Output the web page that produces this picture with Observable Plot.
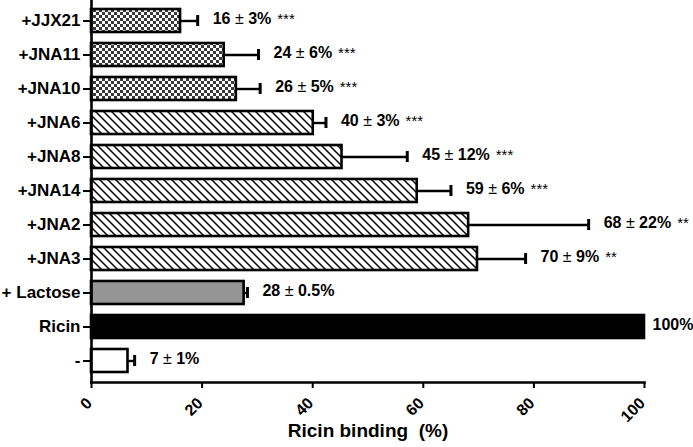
<!DOCTYPE html>
<html>
<head>
<meta charset="utf-8">
<script src="https://cdn.jsdelivr.net/npm/d3@7"></script>
<script src="https://cdn.jsdelivr.net/npm/@observablehq/plot@0.6"></script>
<style>
  html, body { margin: 0; padding: 0; background: #fff; }
</style>
</head>
<body>
<div id="chart"></div>
<script>
// ---- data ----
const categories = ["+JJX21", "+JNA11", "+JNA10", "+JNA6", "+JNA8", "+JNA14", "+JNA2", "+JNA3", "+ Lactose", "Ricin", "-"];
const values = [16.1, 24.0, 26.2, 40.1, 45.3, 58.9, 68.2, 69.8, 27.6, 100, 6.6];
const errors = [3.1, 6.2, 4.3, 2.3, 11.8, 6.1, 21.7, 8.7, 0.6, 0, 1.2];
const labels = ["16 ± 3%", "24 ± 6%", "26 ± 5%", "40 ± 3%", "45 ± 12%", "59 ± 6%", "68 ± 22%", "70 ± 9%", "28 ± 0.5%", "100%", "7 ± 1%"];
const stars = ["***", "***", "***", "***", "***", "***", "**", "**", "", "", ""];
const groups = ["JJX/JNA-a", "JJX/JNA-a", "JJX/JNA-a", "JNA-b", "JNA-b", "JNA-b", "JNA-b", "JNA-b", "lactose", "ricin", "none"];
const xTicks = [0, 20, 40, 60, 80, 100];
const xTitle = "Ricin binding  (%)";

// ---- build ----
const fillByGroup = {
  "JJX/JNA-a": "url(#checker)",
  "JNA-b": "url(#hatch)",
  "lactose": "#959595",
  "ricin": "#000000",
  "none": "#ffffff"
};
const data = categories.map((c, i) => ({
  cat: c, value: values[i], err: errors[i],
  text: stars[i] ? labels[i] + " " + stars[i] : labels[i],
  group: groups[i]
}));
const errData = data.filter(d => d.err > 0);
const font = "'Liberation Sans', Arial, Helvetica, sans-serif";

const plot = Plot.plot({
  width: 693,
  height: 447,
  marginLeft: 91,
  marginRight: 49,
  marginTop: 0,
  marginBottom: 65,
  style: {fontFamily: font, fontWeight: "bold", color: "#000", background: "#fff", overflow: "visible"},
  x: {domain: [0, 100]},
  y: {domain: categories, paddingInner: 0.31, paddingOuter: 0.17},
  marks: [
    ...Object.entries(fillByGroup).map(([g, f]) =>
      Plot.barX(data.filter(d => d.group === g), {x: "value", y: "cat", fill: f, stroke: "#000", strokeWidth: 2.6})
    ),
    Plot.ruleY(errData, {y: "cat", x1: "value", x2: d => d.value + d.err, stroke: "#000", strokeWidth: 2.4}),
    Plot.tickX(errData, {x: d => d.value + d.err, y: "cat", stroke: "#000", strokeWidth: 3, insetTop: 6, insetBottom: 6}),
    Plot.text(errData, {x: d => d.value + d.err, y: "cat", text: "text", textAnchor: "start", dx: 15, dy: -2, fontSize: 16, fontWeight: "bold", fill: "#000", className: "vlabel"}),
    Plot.text(data.filter(d => d.err === 0), {x: "value", y: "cat", text: "text", textAnchor: "start", dx: 8, dy: -2, fontSize: 16, fontWeight: "bold", fill: "#000", className: "vlabel"}),
    Plot.frame({anchor: "left", stroke: "#000", strokeWidth: 2.6}),
    Plot.frame({anchor: "bottom", stroke: "#000", strokeWidth: 2.6}),
    Plot.axisY({tickSize: 8, tickPadding: 3, fontSize: 17, fontWeight: "bold", strokeWidth: 2, label: null}),
    Plot.axisX({ticks: xTicks, tickSize: 6, tickFormat: () => "", strokeWidth: 2, label: null}),
    Plot.axisX({ticks: xTicks, tickSize: 0, tickPadding: 0, tickRotate: -45, fontSize: 16, fontWeight: "bold", label: null, dx: -2, dy: 18}),
    Plot.text([xTitle], {frameAnchor: "bottom", text: d => d, dy: 54, fontSize: 19, fontWeight: "bold", fill: "#000"})
  ]
});

// patterns
const svg = d3.select(plot);
const defs = svg.insert("defs", ":first-child");
const chk = defs.append("pattern").attr("id", "checker").attr("patternUnits", "userSpaceOnUse")
  .attr("width", 6).attr("height", 6);
chk.append("rect").attr("width", 6).attr("height", 6).attr("fill", "#fff");
chk.append("rect").attr("x", 0).attr("y", 0).attr("width", 3).attr("height", 3).attr("fill", "#3a3a3a");
chk.append("rect").attr("x", 3).attr("y", 3).attr("width", 3).attr("height", 3).attr("fill", "#3a3a3a");
const hatch = defs.append("pattern").attr("id", "hatch").attr("patternUnits", "userSpaceOnUse")
  .attr("width", 8).attr("height", 8);
hatch.append("rect").attr("width", 8).attr("height", 8).attr("fill", "#fff");
hatch.append("path").attr("d", "M-2,-2L10,10M-2,6L2,10M6,-2L10,2").attr("stroke", "#000").attr("stroke-width", 1.5);

// thinner "±" and lighter significance stars, as in the original
svg.selectAll("g.vlabel text").each(function () {
  const t = this.textContent;
  const m = t.match(/^(.*?)±(.*?%)(?: (\*+))?$/);
  const el = d3.select(this);
  if (!m) return;
  el.text(null);
  el.append("tspan").text(m[1]);
  el.append("tspan").attr("font-weight", "normal").text("±");
  el.append("tspan").text(m[2]);
  if (m[3]) el.append("tspan").attr("font-size", 15).attr("font-weight", "normal").attr("dx", 6).text(m[3]);
});

document.getElementById("chart").appendChild(plot);
</script>
</body>
</html>
